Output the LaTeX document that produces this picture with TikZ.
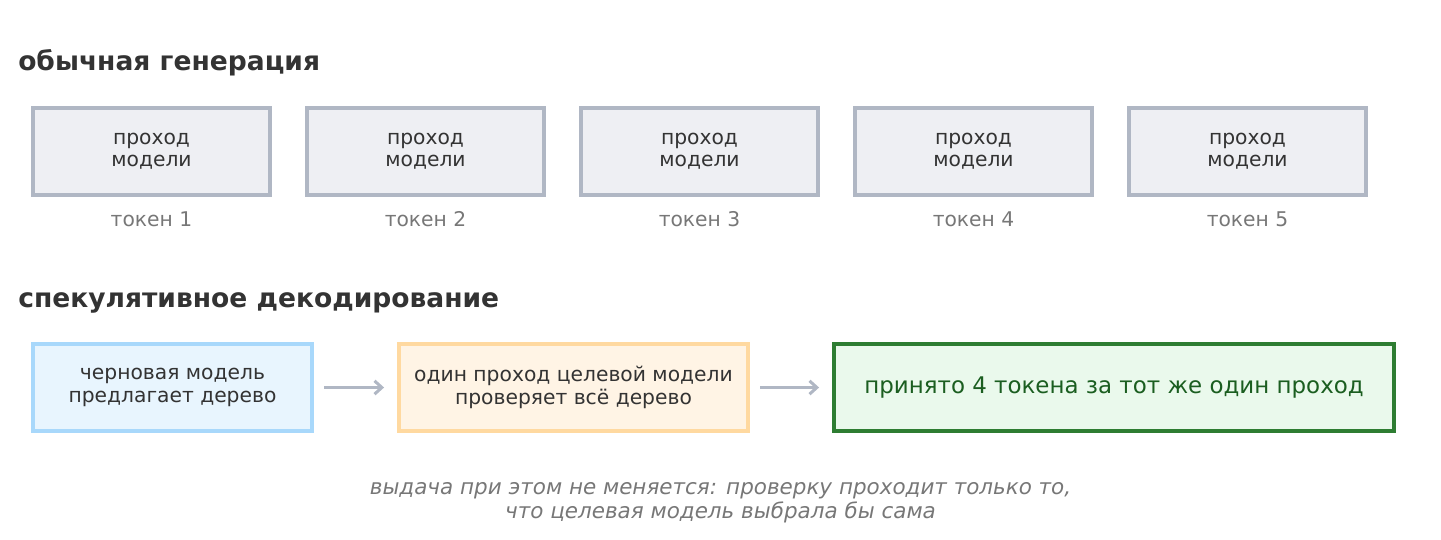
\documentclass[tikz,border=0pt]{standalone}
\usepackage{fontspec}
\setmainfont{DejaVu Sans}
\usetikzlibrary{arrows.meta}
\usepackage{xcolor}
\definecolor{ink}{HTML}{333333}
\definecolor{muted}{HTML}{777777}
\definecolor{passfill}{HTML}{EEEFF3}
\definecolor{passline}{HTML}{B0B7C4}
\definecolor{draftfill}{HTML}{E8F5FE}
\definecolor{draftline}{HTML}{A8D8FB}
\definecolor{checkfill}{HTML}{FFF4E5}
\definecolor{checkline}{HTML}{FFD9A0}
\definecolor{okfill}{HTML}{EAF9EC}
\definecolor{okline}{HTML}{2E7D32}
\definecolor{oktext}{HTML}{1B5E20}

\begin{document}
\begin{tikzpicture}[x=0.75pt,y=-0.75pt]
			\tikzset{head/.style = {anchor=base west, inner sep=0pt, text=ink,
					font=\fontsize{19.9}{24}\selectfont\bfseries}}
			\tikzset{pass/.style = {draw=passline, fill=passfill, line width=2.4pt,
					minimum width=177.75pt, minimum height=65.25pt, align=center,
					text=ink, font=\fontsize{15.2}{16.8}\selectfont}}
			\tikzset{tok/.style = {text=muted, font=\fontsize{15.2}{16.8}\selectfont}}
			\tikzset{stage/.style = {line width=2.4pt, minimum height=65.25pt,
					align=center, text=ink, font=\fontsize{15.2}{16.8}\selectfont}}
			\tikzset{flow/.style = {-{Straight Barb[length=5.5pt,width=10pt]}, draw=passline,
					line width=2.25pt, shorten <=8pt, shorten >=10pt}}
			\useasboundingbox (0,0) rectangle (1441,539);
			% headings
			\node[head] (h1) at (18,70) {обычная генерация};
			\node[head] (h2) at (18,307) {спекулятивное декодирование};
			
			% plain passes
			\node[pass] (p1) at (151.5,151.5) {проход\\модели};
			\node[pass] (p2) at (425.5,151.5) {проход\\модели};
			\node[pass] (p3) at (699.5,151.5) {проход\\модели};
			\node[pass] (p4) at (973.5,151.5) {проход\\модели};
			\node[pass] (p5) at (1247.5,151.5) {проход\\модели};
			
			\node[tok] (t1) at (151.5,219) {токен 1};
			\node[tok] (t2) at (425.5,219) {токен 2};
			\node[tok] (t3) at (699.5,219) {токен 3};
			\node[tok] (t4) at (973.5,219) {токен 4};
			\node[tok] (t5) at (1247.5,219) {токен 5};
			
			% speculative stages
			\node[stage, draw=draftline, fill=draftfill, minimum width=209.25pt] (s1) at (172.5,387.5) {черновая модель\\предлагает дерево};
			\node[stage, draw=checkline, fill=checkfill, minimum width=261.75pt] (s2) at (573.5,387.5) {один проход целевой модели\\проверяет всё дерево};
			\node[stage, draw=okline, fill=okfill, minimum width=420pt, text=oktext,
				font=\fontsize{17.2}{20}\selectfont] (s3) at (1114,387.5) {принято 4 токена за тот же один проход};
			
			%edges
			\draw[flow] (s1) to (s2);
			\draw[flow] (s2) to (s3);
			
			\node[align=center, text=muted, font=\fontsize{16.1}{18}\selectfont\itshape] (note) at (720.5,503) {выдача при этом не меняется: проверку проходит только то,\\что целевая модель выбрала бы сама};
\end{tikzpicture}
\end{document}
